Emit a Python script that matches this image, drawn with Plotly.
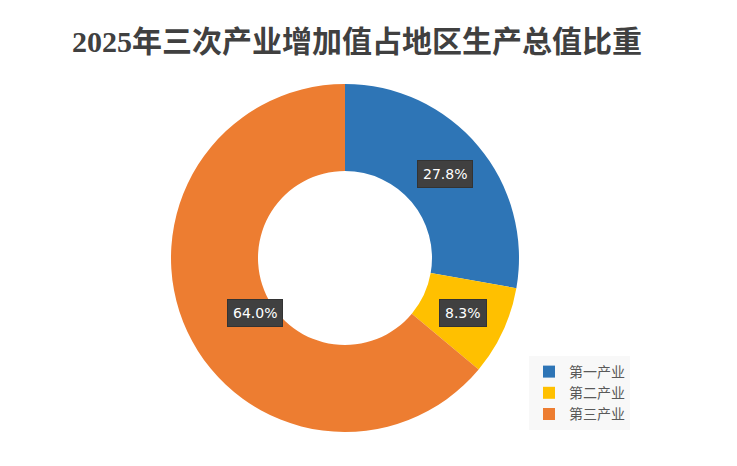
import math
import plotly.graph_objects as go

labels = ['第一产业', '第二产业', '第三产业']
values = [27.8, 8.3, 64.0]
colors = ['#2E75B6', '#FFC000', '#ED7D31']

W, H = 737, 466
OFF = 8                    # page body margin pushes the plot by 8px
cx, cy = 345 - OFF, 258 - OFF   # pie centre in px
r_out = 174
dom_x = [(cx - r_out) / W, (cx + r_out) / W]
dom_y = [1 - (cy + r_out) / H, 1 - (cy - r_out) / H]

fig = go.Figure()

fig.add_trace(go.Pie(
    labels=labels,
    values=values,
    hole=0.5,
    sort=False,
    direction='clockwise',
    rotation=0,
    marker=dict(colors=colors, line=dict(width=0)),
    textinfo='none',
    domain=dict(x=dom_x, y=dom_y),
))

# value labels in dark boxes, placed at mid-angle of each slice
total = sum(values)
acc = 0
r_lab = 130
for v in values:
    mid = (acc + v / 2) / total * 2 * math.pi
    acc += v
    px = cx + r_lab * math.sin(mid)
    py = cy - r_lab * math.cos(mid)
    fig.add_annotation(
        x=px / W, y=1 - py / H, xref='paper', yref='paper',
        text='%.1f%%' % v, showarrow=False,
        font=dict(family='DejaVu Sans', size=14, color='white'),
        bgcolor='#404040', bordercolor='#333333', borderwidth=1, borderpad=5,
    )

fig.update_layout(
    width=W, height=H,
    paper_bgcolor='white',
    plot_bgcolor='white',
    margin=dict(l=0, r=0, t=0, b=0),
    title=dict(
        text='<b>2025年三次产业增加值占地区生产总值比重</b>',
        x=(357 - OFF) / W, xanchor='center', y=1 - (41 - OFF) / H, yanchor='middle',
        font=dict(family='Liberation Serif, Noto Sans CJK SC', size=30, color='#404040'),
    ),
    legend=dict(
        x=521 / W, y=1 - 348 / H, xanchor='left', yanchor='top',
        bgcolor='#F8F8F8',
        font=dict(family='Noto Sans CJK SC', size=14, color='#595959'),
        itemwidth=30, tracegroupgap=0,
    ),
)

fig.write_html("out.html")
